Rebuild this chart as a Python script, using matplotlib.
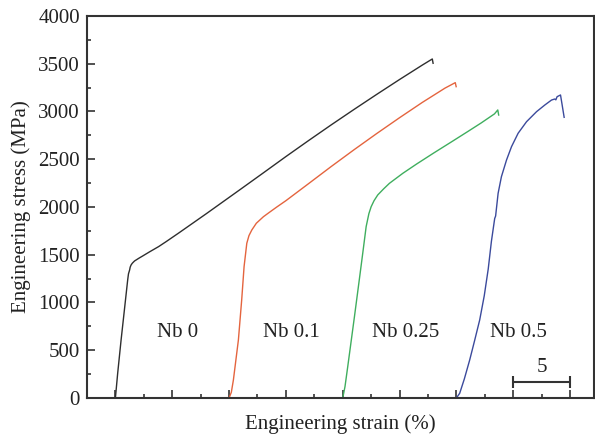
import matplotlib
matplotlib.use('Agg')
import matplotlib.pyplot as plt
from matplotlib.ticker import MultipleLocator, NullFormatter

# stress-strain curves, strain measured from each curve's own start (%)
nb0_strain = [0, 0.20, 0.50, 0.79, 1.08, 1.15, 1.25, 1.30, 1.38, 1.48, 1.60, 1.70, 1.82,
              2.10, 2.40, 3.0, 3.8, 4.46, 5.6, 6.80, 8.0, 9.0, 11.0, 13.0, 15.0,
              17.0, 19.0, 21.0, 23.0, 25.0, 27.0, 27.88, 27.95]
nb0_stress = [0, 259, 607, 921, 1236, 1300, 1340, 1370, 1393, 1410, 1425, 1436, 1445,
              1466, 1487, 1530, 1585, 1637, 1730, 1830, 1930, 2015, 2185, 2356, 2528,
              2696, 2861, 3022, 3180, 3335, 3486, 3550, 3505]

nb01_strain = [0, 0.20, 0.38, 0.82, 1.11, 1.32, 1.56, 1.75, 2.00, 2.40, 3.02, 3.50,
               4.20, 5.0, 7.0, 9.0, 11.0, 13.0, 15.0, 17.0, 19.0, 19.9, 19.98]
nb01_stress = [0, 60, 188, 607, 1026, 1375, 1620, 1700, 1759, 1830, 1898, 1940,
               2000, 2066, 2245, 2425, 2600, 2770, 2935, 3095, 3245, 3302, 3260]

nb025_strain = [0, 0.20, 0.44, 1.03, 1.47, 1.76, 2.06, 2.30, 2.50, 2.75, 3.08, 3.60,
                4.11, 5.29, 6.5, 8.0, 9.54, 11.0, 12.18, 13.35, 13.64, 13.72]
nb025_stress = [0, 120, 328, 851, 1250, 1515, 1794, 1930, 2003, 2065, 2126, 2190,
                2248, 2353, 2450, 2565, 2680, 2790, 2880, 2975, 3016, 2963]

nb05_strain = [0, 0.29, 0.70, 1.17, 1.60, 2.05, 2.45, 2.80, 3.08, 3.37, 3.45, 3.67,
               3.96, 4.41, 4.85, 5.43, 6.17, 7.05, 7.78, 8.37, 8.66, 8.75, 8.86,
               9.16, 9.28, 9.48]
nb05_stress = [0, 49, 200, 398, 600, 817, 1070, 1350, 1640, 1880, 1905, 2143,
               2317, 2492, 2632, 2772, 2893, 2998, 3068, 3120, 3131, 3122, 3155,
               3173, 3086, 2939]

labels = ['Nb 0', 'Nb 0.1', 'Nb 0.25', 'Nb 0.5']
offsets = [2.5, 12.5, 22.5, 32.5]   # curves shifted along strain axis
colors = ['#2e2e2e', '#e4643e', '#3fae5e', '#3b4a9c']
strains = [nb0_strain, nb01_strain, nb025_strain, nb05_strain]
stresses = [nb0_stress, nb01_stress, nb025_stress, nb05_stress]

plt.rcParams['font.family'] = ['Liberation Serif', 'DejaVu Serif']
FS = 15

fig = plt.figure(figsize=(5.95, 4.36), dpi=100)
ax = fig.add_axes([0.1462, 0.0872, 0.852, 0.8761])

for eps, sig, off, c in zip(strains, stresses, offsets, colors):
    ax.plot([e + off for e in eps], sig, color=c, lw=1.0, solid_joinstyle='round')

for lab, off in zip(labels, offsets):
    ax.text(off + 5.5, 690, lab, ha='center', va='center', fontsize=FS, color='#222222')

# 5 % scale bar
ax.errorbar([40.0], [165], xerr=[[2.5], [2.5]], fmt='none', ecolor='#333333',
            elinewidth=1.5, capsize=4, capthick=1.5)
ax.text(40.0, 320, '5', ha='center', va='center', fontsize=FS, color='#222222')

ax.set_xlim(0, 44.6)
ax.set_ylim(0, 4000)
ax.xaxis.set_minor_locator(MultipleLocator(2.5))
ax.xaxis.set_major_formatter(NullFormatter())
ax.set_xticks([2.5 + 5 * k for k in range(9)])
ax.yaxis.set_major_locator(MultipleLocator(500))
ax.yaxis.set_minor_locator(MultipleLocator(250))

ax.tick_params(which='major', direction='in', length=6.0, width=1.2, color='#333333',
               labelsize=FS, labelcolor='#222222', pad=5)
ax.tick_params(which='minor', direction='in', length=3.2, width=1.2, color='#333333')
ax.tick_params(axis='x', which='both', labelbottom=False)
for s in ax.spines.values():
    s.set_linewidth(1.5)
    s.set_color('#333333')

ax.set_xlabel('Engineering strain (%)', fontsize=FS, color='#222222', labelpad=12)
ax.set_ylabel('Engineering stress (MPa)', fontsize=FS, color='#222222', labelpad=5)

fig.savefig('out.png', dpi=100)
